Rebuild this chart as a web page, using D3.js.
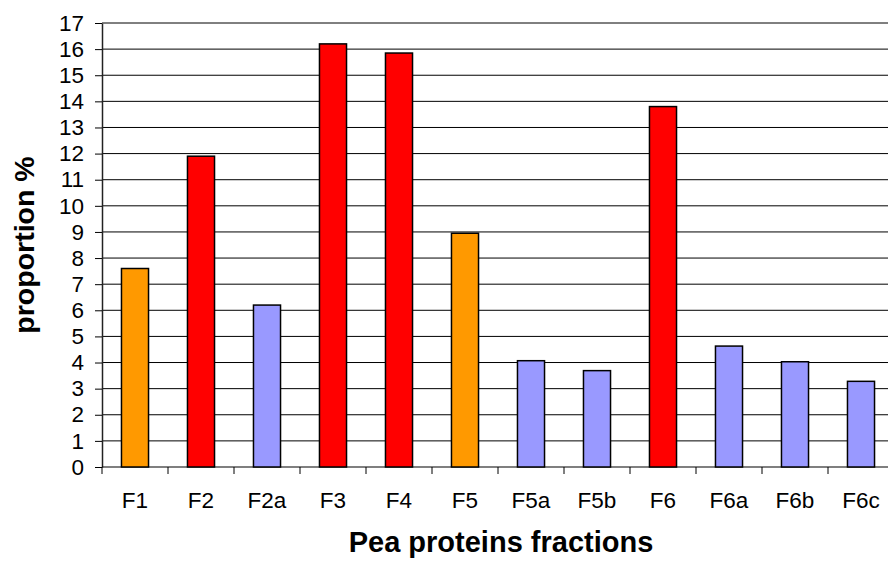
<!DOCTYPE html>
<html>
<head>
<meta charset="utf-8">
<script src="https://cdn.jsdelivr.net/npm/d3@7/dist/d3.min.js"></script>
<style>
  body { margin: 0; background: #fff; }
  svg { display: block; font-family: "Liberation Sans", Arial, sans-serif; }
</style>
</head>
<body>
<svg id="chart" width="888" height="562"></svg>
<script>
// data
const fractions = ['F1', 'F2', 'F2a', 'F3', 'F4', 'F5', 'F5a', 'F5b', 'F6', 'F6a', 'F6b', 'F6c'];
const proportions = [7.6, 11.9, 6.2, 16.2, 15.85, 8.95, 4.07, 3.69, 13.8, 4.63, 4.03, 3.28];
const groups = ['main', 'major', 'sub', 'major', 'major', 'main', 'sub', 'sub', 'major', 'sub', 'sub', 'sub'];
const yTicks = d3.range(0, 18);

const colors = { main: '#FF9900', major: '#FF0000', sub: '#9999FF' };

const svg = d3.select('#chart');
const plotL = 102, plotR = 894, plotT = 23, plotB = 467;

const x = d3.scaleBand().domain(fractions).range([plotL, plotR]).padding(0);
const y = d3.scaleLinear().domain([0, 17]).range([plotB, plotT]);

// gridlines
svg.append('g')
  .selectAll('line')
  .data(yTicks.filter(d => d > 0))
  .enter().append('line')
  .attr('x1', plotL).attr('x2', 888)
  .attr('y1', d => y(d)).attr('y2', d => y(d))
  .attr('stroke', '#000').attr('stroke-width', 1);

// y axis
const yAxis = svg.append('g')
  .attr('transform', `translate(${plotL},0)`)
  .call(d3.axisLeft(y).tickValues(yTicks).tickSize(7).tickPadding(11).tickSizeOuter(0));
yAxis.select('.domain').attr('stroke', '#222').attr('stroke-width', 1.5);
yAxis.selectAll('.tick line').attr('stroke', '#000');
yAxis.selectAll('.tick text')
  .attr('font-size', 22.5).attr('fill', '#000')
  .attr('font-family', '"Liberation Sans", Arial, sans-serif');

// x axis: ticks at band boundaries
const xAxis = svg.append('g').attr('transform', `translate(0,${plotB})`);
xAxis.append('line')
  .attr('x1', plotL).attr('x2', 888)
  .attr('stroke', '#000').attr('stroke-width', 1.2);
xAxis.selectAll('line.xtick')
  .data(fractions)
  .enter().append('line')
  .attr('class', 'xtick')
  .attr('x1', d => x(d)).attr('x2', d => x(d))
  .attr('y1', 0).attr('y2', 7)
  .attr('stroke', '#000');
xAxis.selectAll('text')
  .data(fractions)
  .enter().append('text')
  .attr('x', d => x(d) + x.bandwidth() / 2)
  .attr('y', 41)
  .attr('text-anchor', 'middle')
  .attr('font-size', 22.5)
  .text(d => d);

// bars
const barW = x.bandwidth() * 0.41;
svg.append('g')
  .selectAll('rect')
  .data(fractions.map((f, i) => ({ f, v: proportions[i], g: groups[i] })))
  .enter().append('rect')
  .attr('x', d => x(d.f) + (x.bandwidth() - barW) / 2)
  .attr('y', d => y(d.v))
  .attr('width', barW)
  .attr('height', d => y(0) - y(d.v))
  .attr('fill', d => colors[d.g])
  .attr('stroke', '#000')
  .attr('stroke-width', 1.5);

// axis titles
svg.append('text')
  .attr('x', 501).attr('y', 552)
  .attr('text-anchor', 'middle')
  .attr('font-size', 29).attr('font-weight', 'bold')
  .text('Pea proteins fractions');

svg.append('text')
  .attr('transform', 'translate(34,245) rotate(-90)')
  .attr('text-anchor', 'middle')
  .attr('font-size', 28.5).attr('font-weight', 'bold')
  .text('proportion %');
</script>
</body>
</html>
